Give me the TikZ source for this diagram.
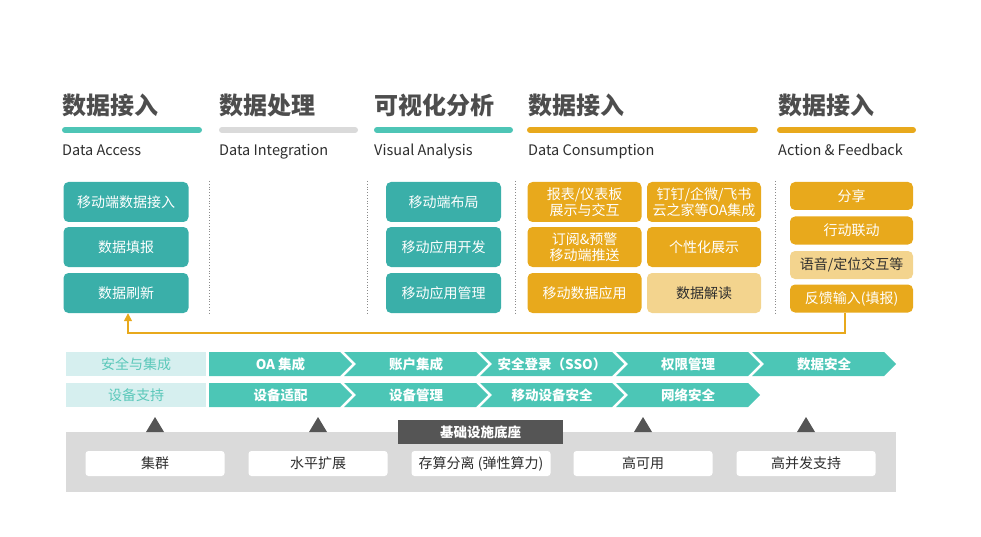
\documentclass[tikz,border=0pt]{standalone}
\usepackage{fontspec}
\setmainfont{Noto Sans CJK SC}
\usetikzlibrary{arrows.meta}
\definecolor{headc}{HTML}{4D4D4D}
\definecolor{subc}{HTML}{2E2E2E}
\definecolor{barteal}{HTML}{4EC5B6}
\definecolor{boxteal}{HTML}{3AAFA9}
\definecolor{chevteal}{HTML}{4CC6B6}
\definecolor{lteal}{HTML}{D6EFEF}
\definecolor{lttext}{HTML}{5BC8BA}
\definecolor{gold}{HTML}{E8A91C}
\definecolor{pale}{HTML}{F3D48E}
\definecolor{lgray}{HTML}{DADADA}
\definecolor{dgray}{HTML}{555555}
\definecolor{dotc}{HTML}{8A8A8A}
\tikzset{
  head/.style={anchor=west, font=\fontsize{24}{24}\selectfont\bfseries, text=headc, inner sep=0pt},
  sub/.style={anchor=base west, font=\fontsize{14.5}{15}\selectfont, text=subc, inner sep=0pt},
  hbar/.style={line width=6pt, line cap=round},
  bx/.style={rounded corners=5pt, inner sep=0pt, align=center, font=\fontsize{14}{16.5}\selectfont},
  tb/.style={bx, fill=boxteal, text=white, minimum width=125pt, minimum height=40pt},
  vb/.style={bx, fill=boxteal, text=white, minimum width=115pt, minimum height=40pt},
  gb/.style={bx, fill=gold, text=white, minimum width=114pt, minimum height=40pt},
  pb/.style={bx, fill=pale, text=subc, minimum width=114pt, minimum height=40pt},
  ab/.style={bx, fill=gold, text=white, minimum width=123pt, minimum height=28pt},
  apb/.style={bx, fill=pale, text=subc, minimum width=123pt, minimum height=28pt},
  sep/.style={draw=dotc, dotted, line width=0.8pt},
  chevtext/.style={text=white, font=\fontsize{13.5}{13.5}\selectfont\bfseries, inner sep=0pt},
  lbl/.style={fill=lteal, text=lttext, font=\fontsize{14}{14}\selectfont, inner sep=0pt, minimum width=140pt, minimum height=24pt},
  wb/.style={fill=white, rounded corners=3pt, text=subc, font=\fontsize{14}{14}\selectfont, inner sep=0pt, minimum width=139pt, minimum height=25pt},
  tri/.style={fill=dgray}
}
\begin{document}
\begin{tikzpicture}[x=1pt,y=-1pt]
\useasboundingbox (0,0) rectangle (981,537);
% headings
\node[head] (h1) at (62,105) {数据接入};
\node[head] (h2) at (219,105) {数据处理};
\node[head] (h3) at (374,105) {可视化分析};
\node[head] (h4) at (528,105) {数据接入};
\node[head] (h5) at (778,105) {数据接入};
% bars
\draw[hbar, barteal] (65,130) -- (199,130);
\draw[hbar, lgray] (222,130) -- (355,130);
\draw[hbar, barteal] (377,130) -- (510,130);
\draw[hbar, gold] (530,130) -- (755,130);
\draw[hbar, gold] (780,130) -- (913,130);
% subtitles
\node[sub] (s1) at (62,156) {Data Access};
\node[sub] (s2) at (219,156) {Data Integration};
\node[sub] (s3) at (374,156) {Visual Analysis};
\node[sub] (s4) at (528,156) {Data Consumption};
\node[sub] (s5) at (778,156) {Action \& Feedback};
% separators
\draw[sep] (209,181) -- (209,313);
\draw[sep] (367,181) -- (367,313);
\draw[sep] (515,181) -- (515,313);
\draw[sep] (775,181) -- (775,313);
% column 1
\node[tb] (a1) at (126,202) {移动端数据接入};
\node[tb] (a2) at (126,247) {数据填报};
\node[tb] (a3) at (126,293) {数据刷新};
% column 3
\node[vb] (v1) at (443.5,202) {移动端布局};
\node[vb] (v2) at (443.5,247) {移动应用开发};
\node[vb] (v3) at (443.5,293) {移动应用管理};
% column 4
\node[gb] (c1) at (584.5,202) {报表/仪表板\\展示与交互};
\node[gb] (c2) at (704,202) {钉钉/企微/飞书\\云之家等OA集成};
\node[gb] (c3) at (584.5,247) {订阅\&预警\\移动端推送};
\node[gb] (c4) at (704,247) {个性化展示};
\node[gb] (c5) at (584.5,293) {移动数据应用};
\node[pb] (c6) at (704,293) {数据解读};
% column 5
\node[ab] (f1) at (851.5,196) {分享};
\node[ab] (f2) at (851.5,230.5) {行动联动};
\node[apb] (f3) at (851.5,265) {语音/定位交互等};
\node[ab] (f4) at (851.5,298.5) {反馈输入(填报)};
% feedback arrow
\draw[gold, line width=1.5pt, -{Triangle[length=8pt,width=8pt]}] (f4.south -| 845,0) |- (128,333) -- (a3.south -| 128,0);
% row labels
\node[lbl] (r1) at (136,364) {安全与集成};
\node[lbl] (r2) at (136,395) {设备支持};
% chevrons row 1
\foreach \k/\t in {0/OA 集成,1/账户集成,2/安全登录（SSO）,3/权限管理,4/数据安全}{
  \pgfmathsetmacro{\b}{340+136*\k}
  \pgfmathsetmacro{\a}{ifthenelse(\k==0,209,344+136*(\k-1))}
  \pgfmathsetmacro{\n}{ifthenelse(\k==0,0,12)}
  \fill[chevteal] (\a,352) -- (\b,352) -- (\b+12,364) -- (\b,376) -- (\a,376) -- (\a+\n,364) -- cycle;
  \node[chevtext] (p\k) at ({(\a+\b+12)/2},364) {\t};
}
% chevrons row 2
\foreach \k/\t in {0/设备适配,1/设备管理,2/移动设备安全,3/网络安全}{
  \pgfmathsetmacro{\b}{340+136*\k}
  \pgfmathsetmacro{\a}{ifthenelse(\k==0,209,344+136*(\k-1))}
  \pgfmathsetmacro{\n}{ifthenelse(\k==0,0,12)}
  \fill[chevteal] (\a,383) -- (\b,383) -- (\b+12,395) -- (\b,407) -- (\a,407) -- (\a+\n,395) -- cycle;
  \node[chevtext] (q\k) at ({(\a+\b+12)/2},395) {\t};
}
% base
\fill[lgray] (66,432) rectangle (896,492);
\foreach \x in {155,318,643,806}{
  \fill[tri] (\x-9,432) -- (\x,417) -- (\x+9,432) -- cycle;
}
\node[fill=dgray, text=white, font=\fontsize{13.5}{13.5}\selectfont\bfseries, inner sep=0pt, minimum width=165pt, minimum height=24pt] (base) at (480.5,432) {基础设施底座};
\node[wb] (w1) at (155,463.5) {集群};
\node[wb] (w2) at (318,463.5) {水平扩展};
\node[wb] (w3) at (481,463.5) {存算分离 (弹性算力)};
\node[wb] (w4) at (643,463.5) {高可用};
\node[wb] (w5) at (806,463.5) {高并发支持};
\end{tikzpicture}
\end{document}
